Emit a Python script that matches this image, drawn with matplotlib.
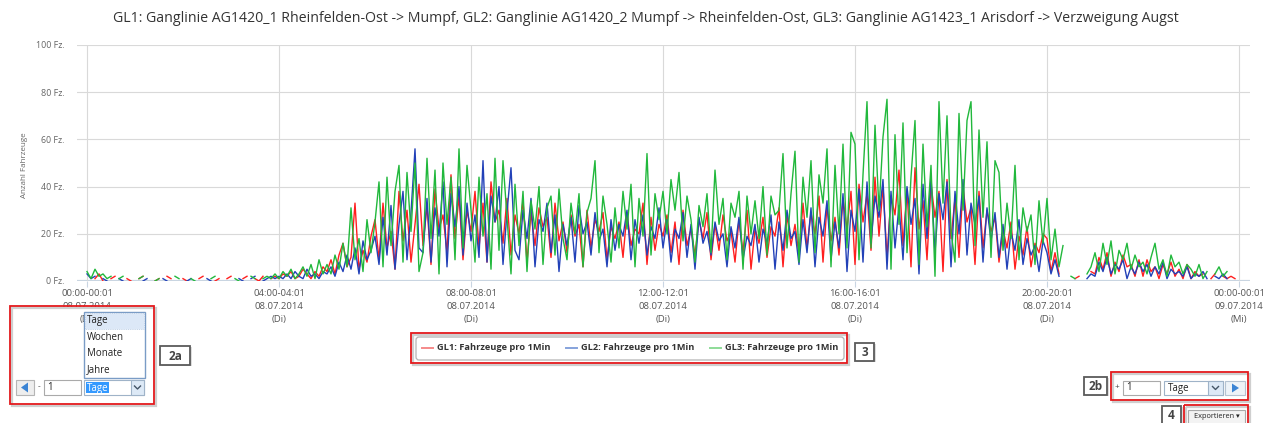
import numpy as np
import matplotlib.pyplot as plt
from matplotlib.patches import Rectangle, FancyBboxPatch, Polygon
from matplotlib.lines import Line2D

plt.rcParams['font.family'] = ['Open Sans', 'DejaVu Sans']

N = None  # missing minute values

# vehicles per interval, one row per hour (5 min steps), 08.07.2014
gl1_rows = [
    [2, N, 1, 3, 0, N, 1, 2, N, N, 1, 0],
    [N, 1, 2, N, N, 0, 1, N, 2, 1, N, N],
    [1, 0, N, N, 1, 2, N, N, 0, 1, N, 1],
    [2, N, N, 1, 2, N, 1, 0, 2, N, 1, 2],
    [1, 3, 2, 4, 1, 2, 5, 3, 1, 4, 2, 6],
    [4, 9, 3, 11, 16, 6, 10, 33, 5, 13, 8, 19],
    [26, 9, 33, 14, 21, 5, 38, 17, 30, 8, 24, 41],
    [15, 32, 7, 39, 22, 28, 12, 45, 18, 36, 9, 30],
    [21, 38, 14, 33, 8, 42, 25, 30, 16, 35, 11, 28],
    [20, 34, 8, 29, 15, 31, 23, 27, 10, 33, 17, 25],
    [12, 28, 19, 24, 6, 30, 14, 26, 21, 29, 9, 23],
    [18, 25, 10, 29, 15, 22, 20, 33, 7, 27, 13, 24],
    [19, 28, 12, 25, 7, 30, 15, 22, 11, 26, 18, 29],
    [9, 24, 13, 28, 17, 21, 8, 26, 12, 30, 5, 22],
    [16, 27, 10, 23, 19, 31, 6, 28, 15, 24, 11, 33],
    [14, 29, 20, 36, 8, 32, 17, 27, 11, 35, 22, 38],
    [7, 41, 25, 37, 13, 44, 19, 40, 10, 36, 28, 47],
    [15, 39, 6, 48, 22, 34, 9, 41, 27, 38, 4, 43],
    [18, 35, 10, 40, 25, 31, 7, 38, 14, 30, 21, 27],
    [8, 22, 14, 25, 5, 19, 11, 23, 6, 16, 12, 20],
    [18, 4, 12, 3, N, N, N, 1, 2, N, N, 4],
    [3, 10, 5, 12, 2, 8, 4, 11, 6, 7, 2, 9],
    [2, 9, 4, 6, 1, 7, 3, 8, 2, 5, 1, 7],
    [1, 4, 2, 3, N, 1, 3, N, 2, 1, 2, 1],
]

gl2_rows = [
    [3, 1, 2, N, 1, 0, N, N, 1, 0, N, N],
    [N, N, 0, 1, N, N, N, 1, 0, N, N, N],
    [N, 0, 1, N, N, N, 1, 0, N, N, 1, N],
    [N, N, 1, 0, N, 1, 2, N, 0, 1, 2, 1],
    [2, 1, 3, 1, 4, 2, 1, 5, 2, 3, 1, 4],
    [3, 6, 2, 8, 4, 11, 5, 14, 3, 17, 9, 13],
    [19, 7, 27, 11, 32, 5, 24, 38, 9, 29, 56, 14],
    [12, 35, 8, 31, 19, 42, 6, 37, 23, 40, 11, 33],
    [17, 28, 10, 51, 8, 36, 25, 40, 7, 29, 48, 13],
    [9, 30, 18, 35, 6, 26, 21, 33, 12, 28, 4, 24],
    [15, 27, 8, 32, 20, 25, 11, 29, 17, 22, 6, 26],
    [13, 24, 19, 30, 9, 26, 16, 28, 11, 23, 18, 31],
    [14, 26, 8, 22, 18, 29, 10, 24, 5, 27, 16, 21],
    [11, 25, 17, 20, 6, 23, 14, 27, 9, 19, 15, 24],
    [8, 22, 16, 28, 5, 25, 13, 30, 18, 21, 7, 26],
    [12, 31, 6, 27, 19, 34, 9, 25, 14, 37, 4, 30],
    [21, 39, 8, 42, 16, 36, 27, 43, 5, 38, 14, 32],
    [9, 40, 24, 35, 3, 41, 18, 44, 12, 37, 26, 42],
    [6, 38, 20, 43, 11, 33, 24, 36, 8, 31, 17, 29],
    [10, 24, 5, 21, 13, 26, 7, 18, 11, 15, 4, 17],
    [12, 3, 9, 2, N, N, N, N, N, N, 1, 3],
    [2, 8, 4, 10, 3, 7, 5, 9, 1, 6, 3, 8],
    [4, 7, 2, 6, 3, 8, 1, 5, 3, 4, 2, 6],
    [1, 3, 2, 4, 1, N, 2, 1, 3, 1, N, 2],
]

gl3_rows = [
    [4, 1, 5, 2, 3, 1, 2, N, 1, 2, N, N],
    [N, 1, 2, N, N, 0, 1, N, N, N, 2, 1],
    [N, N, 1, 0, N, N, N, 1, 2, N, N, N],
    [N, 1, 0, N, N, 2, 1, N, 1, 2, 1, 3],
    [1, 4, 2, 5, 1, 3, 6, 2, 7, 1, 9, 3],
    [7, 3, 11, 5, 16, 6, 31, 9, 18, 4, 26, 12],
    [25, 42, 6, 44, 15, 38, 49, 8, 46, 21, 50, 4],
    [12, 52, 18, 47, 3, 50, 24, 44, 9, 56, 14, 49],
    [30, 8, 44, 19, 37, 5, 52, 13, 51, 27, 3, 41],
    [15, 38, 4, 34, 22, 40, 7, 31, 36, 11, 39, 18],
    [9, 33, 20, 37, 6, 29, 35, 51, 12, 36, 24, 8],
    [31, 14, 38, 22, 41, 6, 35, 19, 54, 11, 37, 26],
    [38, 20, 43, 30, 46, 17, 36, 26, 8, 32, 23, 37],
    [12, 47, 24, 35, 9, 33, 27, 38, 5, 36, 20, 34],
    [18, 40, 11, 36, 28, 30, 54, 14, 37, 55, 8, 44],
    [27, 51, 12, 45, 33, 56, 6, 49, 20, 58, 14, 63],
    [58, 9, 45, 76, 14, 66, 30, 61, 77, 5, 62, 24],
    [67, 12, 44, 68, 7, 58, 23, 49, 2, 76, 33, 70],
    [21, 8, 71, 30, 68, 76, 15, 64, 27, 59, 10, 51],
    [46, 13, 33, 18, 49, 9, 31, 21, 28, 7, 34, 16],
    [35, 9, 22, 6, 15, N, 2, 1, N, N, 3, 6],
    [12, 4, 16, 7, 17, 3, 13, 9, 16, 5, 11, 6],
    [8, 3, 10, 16, 5, 9, 2, 11, 6, 8, 3, 7],
    [5, 2, 7, 1, 4, N, 3, 6, 2, 4, N, 3],
]

series_names = ['GL1: Fahrzeuge pro 1Min', 'GL2: Fahrzeuge pro 1Min', 'GL3: Fahrzeuge pro 1Min']
series_colors = ['#ff1f1f', '#2241b8', '#21b83c']
legend_colors = ['#f58a8a', '#86a3dc', '#8edc98']

tick_hours = [0, 4, 8, 12, 16, 20, 24]
tick_labels = [
    '00:00-00:01\n08.07.2014\n(Di)',
    '04:00-04:01\n08.07.2014\n(Di)',
    '08:00-08:01\n08.07.2014\n(Di)',
    '12:00-12:01\n08.07.2014\n(Di)',
    '16:00-16:01\n08.07.2014\n(Di)',
    '20:00-20:01\n08.07.2014\n(Di)',
    '00:00-00:01\n09.07.2014\n(Mi)',
]
y_ticks = [0, 20, 40, 60, 80, 100]

title = ('GL1: Ganglinie AG1420_1 Rheinfelden-Ost -> Mumpf, '
         'GL2: Ganglinie AG1420_2 Mumpf -> Rheinfelden-Ost, '
         'GL3: Ganglinie AG1423_1 Arisdorf -> Verzweigung Augst')

series = [np.array(sum(rows, []), dtype=float) for rows in (gl1_rows, gl2_rows, gl3_rows)]
hours = np.arange(len(series[0])) * 5 / 60

W, H = 1266, 423
fig = plt.figure(figsize=(W / 100, H / 100), dpi=100)
fig.patch.set_facecolor('white')

# plot area in pixel terms: x 77..1250, y 45..281
ax = fig.add_axes([77 / W, 1 - 281 / H, (1250 - 77) / W, (281 - 45) / H])
px_per_hour = 48
ax.set_xlim(-10 / px_per_hour, (1250 - 87) / px_per_hour)
ax.set_ylim(0, 100)

for vals, col in zip(series, series_colors):
    ax.plot(hours, vals, color=col, lw=1.0, solid_joinstyle='round')

ax.set_xticks(tick_hours)
ax.set_xticklabels(tick_labels, fontsize=6.8, color='#555555', linespacing=1.55)
ax.set_yticks(y_ticks)
ax.set_yticklabels([f'{v} Fz.' for v in y_ticks], fontsize=6.4, color='#666666')
ax.grid(True, color='#d9d9d9', lw=0.8)
ax.set_axisbelow(True)
for s in ax.spines.values():
    s.set_visible(False)
ax.axhline(0, color='#c9d5e2', lw=1.6, zorder=0.5)
ax.tick_params(axis='x', length=4, width=0.8, color='#c9d5e2', pad=2)
ax.tick_params(axis='y', length=0, pad=9)

fig.text(646 / W, 1 - 19 / H, title, ha='center', va='center', fontsize=10.2, color='#333333')
fig.text(24 / W, 1 - 165 / H, 'Anzahl Fahrzeuge', rotation=90, ha='center', va='center',
         fontsize=5.8, color='#666666')

# ── controls drawn on top, in pixel coordinates ──
ui = fig.add_axes([0, 0, 1, 1], zorder=10)
ui.set_xlim(0, W)
ui.set_ylim(H, 0)
ui.axis('off')
ui.patch.set_alpha(0)


def box(x, y, w, h, fc='white', ec='#a0a0a0', lw=0.8, z=2):
    ui.add_patch(Rectangle((x, y), w, h, fc=fc, ec=ec, lw=lw, zorder=z))


def red_frame(x, y, w, h):
    ui.add_patch(Rectangle((x + 2, y + 2), w, h, fc='none', ec='#cfcfcf', lw=1.6, zorder=1))
    ui.add_patch(Rectangle((x, y), w, h, fc='none', ec='#e3191c', lw=1.3, zorder=5))


def number_tag(x, y, w, h, label):
    ui.add_patch(Rectangle((x + 1.5, y + 1.5), w, h, fc='#dddddd', ec='none', zorder=1))
    box(x, y, w, h, fc='white', ec='#5a5a5a', lw=1.3)
    ui.text(x + w / 2, y + h / 2 + 0.5, label, ha='center', va='center', fontsize=8.5,
            color='#444444', fontweight='bold', zorder=6)


# left: step back control with open dropdown
red_frame(10, 306, 144, 98)
box(16, 380, 18, 15, fc='#eeeeee', ec='#b5b5b5')
ui.add_patch(Polygon([(21, 387.5), (28, 382.5), (28, 392.5)], fc='#3b84d4', ec='none', zorder=3))
ui.text(39, 387, '-', ha='center', va='center', fontsize=6, color='#333333')
box(44, 380, 37, 15, ec='#aaaaaa')
ui.text(47.5, 388, '1', ha='left', va='center', fontsize=7, color='#222222', zorder=4)
box(84, 380, 60, 15, ec='#9fb3c8')
ui.add_patch(Rectangle((86, 382), 23, 11, fc='#3399ff', ec='none', zorder=3))
ui.text(87, 388, 'Tage', ha='left', va='center', fontsize=7, color='white', zorder=4)
box(131, 380, 13, 15, fc='#dde9f6', ec='#9fb3c8', z=3)
ui.plot([134.5, 137.5, 140.5], [386, 389, 386], color='#445566', lw=1, zorder=4)

box(84, 312, 61, 66, ec='#7a9cc6', lw=1, z=6)
ui.add_patch(Rectangle((85, 313), 59, 16, fc='#dce8f7', ec='#b8cbe2', lw=0.6, ls=':', zorder=6))
for label, yy in zip(['Tage', 'Wochen', 'Monate', 'Jahre'], [321, 337.5, 354, 370]):
    ui.text(87, yy, label, ha='left', va='center', fontsize=7, color='#222222', zorder=7)

number_tag(160, 346, 30, 19, '2a')

# legend
red_frame(411, 333, 436, 30)
ui.add_patch(FancyBboxPatch((416, 337), 428, 23, boxstyle='round,pad=0,rounding_size=3',
                            fc='white', ec='#b3b3b3', lw=0.9, zorder=3))
for name, col, x0 in zip(series_names, legend_colors, [422, 566, 710]):
    ui.add_line(Line2D([x0, x0 + 11], [348, 348], color=col, lw=1.4, zorder=4))
    ui.text(x0 + 15, 348, name, ha='left', va='center', fontsize=6.7, fontweight='bold',
            color='#333333', zorder=4)
number_tag(855, 343, 19, 18, '3')

# right: step forward control
number_tag(1084, 377, 23, 18, '2b')
red_frame(1111, 372, 137, 28)
ui.text(1117, 387, '+', ha='center', va='center', fontsize=6, color='#333333')
box(1123, 381, 37, 14, ec='#aaaaaa')
ui.text(1126.5, 388, '1', ha='left', va='center', fontsize=7, color='#222222', zorder=4)
box(1164, 381, 59, 14, ec='#9fb3c8')
ui.text(1168, 388, 'Tage', ha='left', va='center', fontsize=7, color='#222222', zorder=4)
box(1208, 381, 15, 14, fc='#dde9f6', ec='#9fb3c8', z=3)
ui.plot([1212.5, 1215.5, 1218.5], [386.5, 389.5, 386.5], color='#445566', lw=1, zorder=4)
box(1225, 381, 20, 14, fc='#eef3f8', ec='#b5c3d2')
ui.add_patch(Polygon([(1232, 383.5), (1232, 392.5), (1239, 388)], fc='#3b84d4', ec='none', zorder=3))

# export button
number_tag(1162, 406, 19, 18, '4')
red_frame(1184, 405, 64, 22)
box(1188, 410, 57, 15, fc='#f3f3f3', ec='#a9a9a9')
ui.text(1216.5, 417, 'Exportieren ▾', ha='center', va='center', fontsize=5.3, color='#222222',
        zorder=4)

fig.savefig('out.png', dpi=100, facecolor='white')
